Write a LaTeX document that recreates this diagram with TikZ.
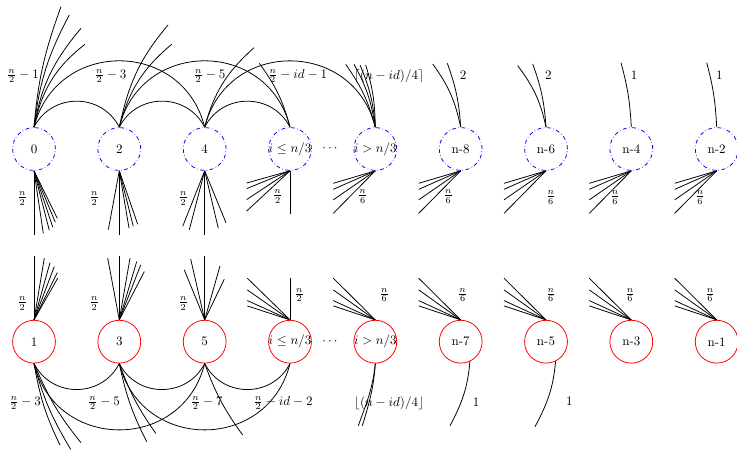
\documentclass[tikz,border=0pt]{standalone}
\usepackage{amsmath}
\begin{document}
\begin{tikzpicture}[x=0.77pt,y=0.77pt,
  edge/.style={line width=0.6pt},
  topnode/.style={circle,draw=blue,dashdotted,line width=0.6pt,minimum size=33pt,inner sep=0pt},
  botnode/.style={circle,draw=red,line width=0.6pt,minimum size=33pt,inner sep=0pt},
  lbl/.style={inner sep=0pt},
  lowarc/.style={edge,looseness=1.17},
  higharc/.style={edge,looseness=1.37}]
\useasboundingbox (0,0) rectangle (737,450);

% ---------- top row ----------
\node[topnode] (t0) at (34,301) {0};
\node[topnode] (t2) at (119.3,301) {2};
\node[topnode] (t4) at (204.7,301) {4};
\node[topnode] (ta) at (290,301) {\makebox[0pt]{$i\leq n/3$}};
\node[topnode] (tb) at (375.3,301) {\makebox[0pt]{$i> n/3$}};
\node[topnode] (t8) at (460.7,301) {n-8};
\node[topnode] (t6) at (546,301) {n-6};
\node[topnode] (t4b) at (631.3,301) {n-4};
\node[topnode] (t2b) at (716.7,301) {n-2};
\node[lbl] (tdots) at (331,301) {$\cdots$};

% ---------- bottom row ----------
\node[botnode] (b1) at (34,108.3) {1};
\node[botnode] (b3) at (119.3,108.3) {3};
\node[botnode] (b5) at (204.7,108.3) {5};
\node[botnode] (ba) at (290,108.3) {\makebox[0pt]{$i\leq n/3$}};
\node[botnode] (bb) at (375.3,108.3) {\makebox[0pt]{$i> n/3$}};
\node[botnode] (b7) at (460.7,108.3) {n-7};
\node[botnode] (b5b) at (546,108.3) {n-5};
\node[botnode] (b3b) at (631.3,108.3) {n-3};
\node[botnode] (b1b) at (716.7,108.3) {n-1};
\node[lbl] (bdots) at (331,108.3) {$\cdots$};

% ---------- top arcs ----------
\draw[lowarc] (t0.north) to[out=63,in=117] (t2.north);
\draw[lowarc] (t2.north) to[out=63,in=117] (t4.north);
\draw[lowarc] (t4.north) to[out=63,in=117] (ta.north);
\draw[higharc] (t0.north) to[out=76,in=104] (t4.north);
\draw[higharc] (t2.north) to[out=76,in=104] (ta.north);
\draw[higharc] (t4.north) to[out=76,in=104] (tb.north);

% ---------- top free curves ----------
\draw[edge] (t0.north) to[out=85,in=250] (61,443.3);
\draw[edge] (t0.north) to[out=83,in=242] (69.3,435);
\draw[edge] (t0.north) to[out=80,in=230] (81,421.7);
\draw[edge] (t0.north) to[out=78,in=218] (85,405.7);
\draw[edge] (t2.north) to[out=78,in=230] (168,425);
\draw[edge] (t2.north) to[out=75,in=220] (171.7,405.7);
\draw[edge] (t4.north) to[out=75,in=222] (254,402.3);
\draw[edge] (ta.north) to[out=105,in=306] (259.3,386.7);
\draw[edge] (tb.north) to[out=105,in=305] (345.7,385.7);
\draw[edge] (tb.north) to[out=99,in=299] (354,385.7);
\draw[edge] (tb.north) to[out=95,in=293] (360,385);
\draw[edge] (tb.north) to[out=91,in=287] (365.7,385);
\draw[edge] (t8.north) to[out=102,in=306] (432.7,386);
\draw[edge] (t8.north) to[out=94,in=290] (447.3,386.7);
\draw[edge] (t6.north) to[out=102,in=307] (517.7,384.3);
\draw[edge] (t6.north) to[out=94,in=290] (532.7,386);
\draw[edge] (t4b.north) to[out=93,in=285] (621,387.3);
\draw[edge] (t2b.north) to[out=93,in=285] (706.7,387.3);

% ---------- top downward fans ----------
\foreach \p in {(0,-64.5),(9.3,-62.5),(15.3,-59.5),(18.7,-56.2),(21.3,-51.5),(23.3,-47.5)}
  \draw[edge] (t0.south) -- ++\p;
\foreach \p in {(-11,-58.8),(0,-64.5),(9.7,-57.2),(14,-55.5),(18.4,-53.5)}
  \draw[edge] (t2.south) -- ++\p;
\foreach \p in {(-22,-55.5),(-15.4,-59),(0,-64.5),(13.6,-57.5),(21.3,-52)}
  \draw[edge] (t4.south) -- ++\p;
\foreach \p in {(-43.3,-12.2),(-43.3,-17.8),(-43.3,-28.8),(-43.3,-40.2),(0,-42.8)}
  \draw[edge] (ta.south) -- ++\p;
\foreach \n in {tb,t8,t6,t4b,t2b}
  \foreach \p in {(-42,-12.5),(-42,-18.5),(-42,-29),(-42,-42.5)}
    \draw[edge] (\n.south) -- ++\p;

% ---------- bottom upward fans ----------
\foreach \p in {(0,64),(10.3,61.7),(16,57.3),(20.3,53.3),(23.3,47.3),(23.7,41.7)}
  \draw[edge] (b1.north) -- ++\p;
\foreach \p in {(-11.6,61.7),(0,64),(10.7,61.7),(17.4,58.3),(21.4,55),(25,48.3)}
  \draw[edge] (b3.north) -- ++\p;
\foreach \p in {(-14,60.7),(-20.4,50),(0,64),(15.3,54),(19.6,40.7)}
  \draw[edge] (b5.north) -- ++\p;
\foreach \p in {(0,41.7),(-42.7,41.7),(-42.7,30),(-42.7,19.3),(-42.7,14)}
  \draw[edge] (ba.north) -- ++\p;
\foreach \n in {bb,b7,b5b,b3b,b1b}
  \foreach \p in {(-42,41.7),(-42,30),(-42,19.3),(-42,14)}
    \draw[edge] (\n.north) -- ++\p;

% ---------- bottom arcs ----------
\draw[lowarc] (b1.south) to[out=-63,in=-117] (b3.south);
\draw[lowarc] (b3.south) to[out=-63,in=-117] (b5.south);
\draw[lowarc] (b5.south) to[out=-63,in=-117] (ba.south);
\draw[higharc] (b1.south) to[out=-76,in=-104] (b5.south);
\draw[higharc] (b3.south) to[out=-76,in=-104] (ba.south);

% ---------- bottom free curves ----------
\draw[edge] (b1.south) to[out=-80,in=116] (60,5);
\draw[edge] (b1.south) to[out=-75,in=121] (70.7,0.7);
\draw[edge] (b1.south) to[out=-67,in=129] (81,7.3);
\draw[edge] (b3.south) to[out=-78,in=117] (146.7,8.3);
\draw[edge] (b3.south) to[out=-70,in=125] (155.7,16.7);
\draw[edge] (b5.south) to[out=-70,in=126] (242.7,15);
\draw[edge] (bb.south) to[out=-96,in=70] (358.3,24.3);
\draw[edge] (bb.south) to[out=-94,in=73] (362.3,24.3);
\draw[edge] (b7.-65) to[out=-95,in=62] (450,24.3);
\draw[edge] (b5b.-64) to[out=-95,in=62] (535,23.3);

% ---------- labels: top row, above ----------
\node[lbl] (lt0) at (22.8,374) {$\frac{n}{2}-1$};
\node[lbl] (lt2) at (110.5,374) {$\frac{n}{2}-3$};
\node[lbl] (lt4) at (209.5,374) {$\frac{n}{2}-5$};
\node[lbl] (lta) at (297.5,374) {$\frac{n}{2}-id-1$};
\node[lbl] (ltb) at (389,374) {$\lceil (n-id)/4\rceil$};
\node[lbl] (lt8) at (463,375.3) {2};
\node[lbl] (lt6) at (548.3,375.3) {2};
\node[lbl] (lt4b) at (634,375.3) {1};
\node[lbl] (lt2b) at (719.3,375.3) {1};

% ---------- labels: top row, below ----------
\node[lbl] (mt0) at (22.3,251.7) {$\frac{n}{2}$};
\node[lbl] (mt2) at (94.3,251.7) {$\frac{n}{2}$};
\node[lbl] (mt4) at (183.3,251.7) {$\frac{n}{2}$};
\node[lbl] (mta) at (277.7,253.3) {$\frac{n}{2}$};
\node[lbl] (mtb) at (362.7,253.3) {$\frac{n}{6}$};
\node[lbl] (mt8) at (448.3,253.3) {$\frac{n}{6}$};
\node[lbl] (mt6) at (550.7,252.3) {$\frac{n}{6}$};
\node[lbl] (mt4b) at (615,252.3) {$\frac{n}{6}$};
\node[lbl] (mt2b) at (700,252.3) {$\frac{n}{6}$};

% ---------- labels: bottom row, above ----------
\node[lbl] (mb1) at (22.3,146.7) {$\frac{n}{2}$};
\node[lbl] (mb3) at (94.3,146.7) {$\frac{n}{2}$};
\node[lbl] (mb5) at (183.3,146.7) {$\frac{n}{2}$};
\node[lbl] (mba) at (299.3,155) {$\frac{n}{2}$};
\node[lbl] (mbb) at (384.3,155) {$\frac{n}{6}$};
\node[lbl] (mb7) at (462.7,155) {$\frac{n}{6}$};
\node[lbl] (mb5b) at (550.7,155) {$\frac{n}{6}$};
\node[lbl] (mb3b) at (630,155) {$\frac{n}{6}$};
\node[lbl] (mb1b) at (710,155) {$\frac{n}{6}$};

% ---------- labels: bottom row, below ----------
\node[lbl] (lb1) at (25,47) {$\frac{n}{2}-3$};
\node[lbl] (lb3) at (103.8,47) {$\frac{n}{2}-5$};
\node[lbl] (lb5) at (206.7,47) {$\frac{n}{2}-7$};
\node[lbl] (lba) at (283,47) {$\frac{n}{2}-id-2$};
\node[lbl] (lbb) at (389,47) {$\lfloor (n-id)/4\rfloor$};
\node[lbl] (lb7) at (476,48.3) {1};
\node[lbl] (lb5b) at (569.3,49.3) {1};
\end{tikzpicture}
\end{document}
